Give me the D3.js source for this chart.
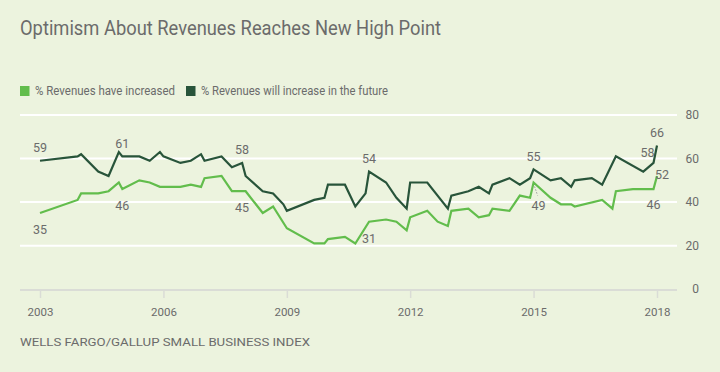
<!DOCTYPE html>
<html>
<head>
<meta charset="utf-8">
<script src="https://cdn.jsdelivr.net/npm/d3@7"></script>
<style>
  body { margin: 0; background: #ecf3de; }
  svg { display: block; font-family: Roboto, "Noto Sans", sans-serif; }
</style>
</head>
<body>
<svg id="chart" width="720" height="372"></svg>
<script>
// survey waves (year-month)
const dates = [
  "2003-01","2003-12","2004-01","2004-06","2004-09","2004-12","2005-01","2005-06","2005-09","2005-12",
  "2006-01","2006-06","2006-09","2006-12","2007-01","2007-06","2007-09","2007-12","2008-01","2008-06",
  "2008-09","2008-12","2009-01","2009-09","2009-12","2010-01","2010-06","2010-09","2010-12","2011-01",
  "2011-06","2011-09","2011-12","2012-01","2012-06","2012-09","2012-12","2013-01","2013-06","2013-09",
  "2013-12","2014-01","2014-06","2014-09","2014-12","2015-01","2015-06","2015-09","2015-12","2016-01",
  "2016-06","2016-09","2016-12","2017-01","2017-06","2017-09","2017-12","2018-01"
];
const haveIncreased = [
  35,41,44,44,45,49,46,50,49,47,
  47,47,48,47,51,52,45,45,45,35,
  38,null,28,21,21,23,24,21,null,31,
  32,31,27,33,36,31,29,36,37,33,
  34,37,36,43,42,49,42,39,39,38,
  null,41,37,45,46,46,46,52
];
const willIncrease = [
  59,61,62,54,52,63,61,61,59,63,
  61,58,59,62,59,61,56,58,52,45,
  44,39,36,41,42,48,48,38,44,54,
  49,42,37,49,49,null,37,43,45,47,
  44,48,51,48,51,55,50,51,47,50,
  51,48,null,61,null,54,58,66
];
const seriesNames = ["% Revenues have increased", "% Revenues will increase in the future"];
const yTicks = [0, 20, 40, 60, 80];
const xTickYears = [2003, 2006, 2009, 2012, 2015, 2018];
const labeledDates = ["2003-01", "2005-01", "2007-12", "2011-01", "2015-01", "2017-12", "2018-01"];

const colors = ["#62bd4c", "#28543a"];
const textColor = "#6b6b6b";

const parse = d3.timeParse("%Y-%m");
const svg = d3.select("#chart");

const x = d3.scaleTime()
  .domain([new Date(2003, 0, 1), new Date(2018, 0, 1)])
  .range([40, 657]);
const y = d3.scaleLinear()
  .domain([0, 80])
  .range([289.2, 115]);

// title
svg.append("text")
  .attr("x", 20)
  .attr("y", 34.5)
  .attr("textLength", 421)
  .attr("lengthAdjust", "spacingAndGlyphs")
  .style("font-size", "19.5px")
  .style("fill", textColor)
  .text("Optimism About Revenues Reaches New High Point");

// legend
const legendX = [20, 186];
const legendW = [140, 187];
seriesNames.forEach((name, i) => {
  svg.append("rect")
    .attr("x", legendX[i])
    .attr("y", 86)
    .attr("width", 9.5)
    .attr("height", 10)
    .attr("fill", colors[i]);
  svg.append("text")
    .attr("x", legendX[i] + 15)
    .attr("y", 95)
    .attr("textLength", legendW[i])
    .attr("lengthAdjust", "spacingAndGlyphs")
    .style("font-size", "12px")
    .style("fill", textColor)
    .text(name);
});

// gridlines
svg.append("g")
  .selectAll("line")
  .data(yTicks.filter(d => d > 0))
  .enter()
  .append("line")
  .attr("x1", 20)
  .attr("x2", 677)
  .attr("y1", d => y(d))
  .attr("y2", d => y(d))
  .attr("stroke", "#ffffff")
  .attr("stroke-width", 2);

// y labels on the right
svg.append("g")
  .selectAll("text")
  .data(yTicks)
  .enter()
  .append("text")
  .attr("x", 699)
  .attr("y", d => y(d))
  .attr("dy", "0.35em")
  .attr("text-anchor", "end")
  .style("font-size", "12px")
  .style("fill", textColor)
  .text(d => d);

// x axis
svg.append("line")
  .attr("x1", 20)
  .attr("x2", 677)
  .attr("y1", 290)
  .attr("y2", 290)
  .attr("stroke", "#dadcd6")
  .attr("stroke-width", 2);

const xAxis = d3.axisBottom(x)
  .tickValues(xTickYears.map(yr => new Date(yr, 0, 1)))
  .tickFormat(d3.timeFormat("%Y"))
  .tickSize(8)
  .tickPadding(10);

const ax = svg.append("g")
  .attr("transform", "translate(0,290)")
  .call(xAxis);
ax.select(".domain").remove();
ax.selectAll(".tick line").attr("stroke", "#dadcd6").attr("stroke-width", 1.5);
ax.selectAll(".tick text")
  .style("font-size", "11.5px")
  .style("font-family", "Roboto, sans-serif")
  .style("fill", textColor);

// lines
const allSeries = [haveIncreased, willIncrease].map(vals =>
  dates.map((d, i) => ({ date: parse(d), key: d, value: vals[i] })).filter(p => p.value != null)
);

const line = d3.line()
  .x(d => x(d.date))
  .y(d => y(d.value));

svg.append("g")
  .selectAll("path")
  .data(allSeries)
  .enter()
  .append("path")
  .attr("d", line)
  .attr("fill", "none")
  .attr("stroke", (d, i) => colors[i])
  .attr("stroke-width", 2.2);

// value labels
const labelOffset = (key, s) => {
  if (key === "2017-12") return s === 1 ? [-6, -10] : [0, 16];
  if (key === "2018-01") return s === 1 ? [0, -13] : [5, -1];
  if (key === "2015-01" && s === 0) return [5, 23];
  return s === 1 ? [0, -13] : [0, 16.5];
};

allSeries.forEach((pts, s) => {
  pts.filter(p => labeledDates.includes(p.key)).forEach(p => {
    const [dx, dy] = labelOffset(p.key, s);
    svg.append("text")
      .attr("x", x(p.date) + dx)
      .attr("y", y(p.value) + dy)
      .attr("dy", "0.35em")
      .attr("text-anchor", "middle")
      .style("font-size", "12.5px")
      .style("fill", textColor)
      .text(p.value);
    if (p.key === "2015-01" && s === 0) {
      svg.append("line")
        .attr("x1", x(p.date) + 1)
        .attr("y1", y(p.value) + 4)
        .attr("x2", x(p.date) + 4)
        .attr("y2", y(p.value) + 13)
        .attr("stroke", "#9a9a9a")
        .attr("stroke-width", 1)
        .attr("stroke-dasharray", "1.5,1.5");
    }
  });
});

// source
svg.append("text")
  .attr("x", 20)
  .attr("y", 345.5)
  .attr("textLength", 290)
  .attr("lengthAdjust", "spacingAndGlyphs")
  .style("font-size", "10.5px")
  .style("fill", textColor)
  .text("WELLS FARGO/GALLUP SMALL BUSINESS INDEX");
</script>
</body>
</html>
